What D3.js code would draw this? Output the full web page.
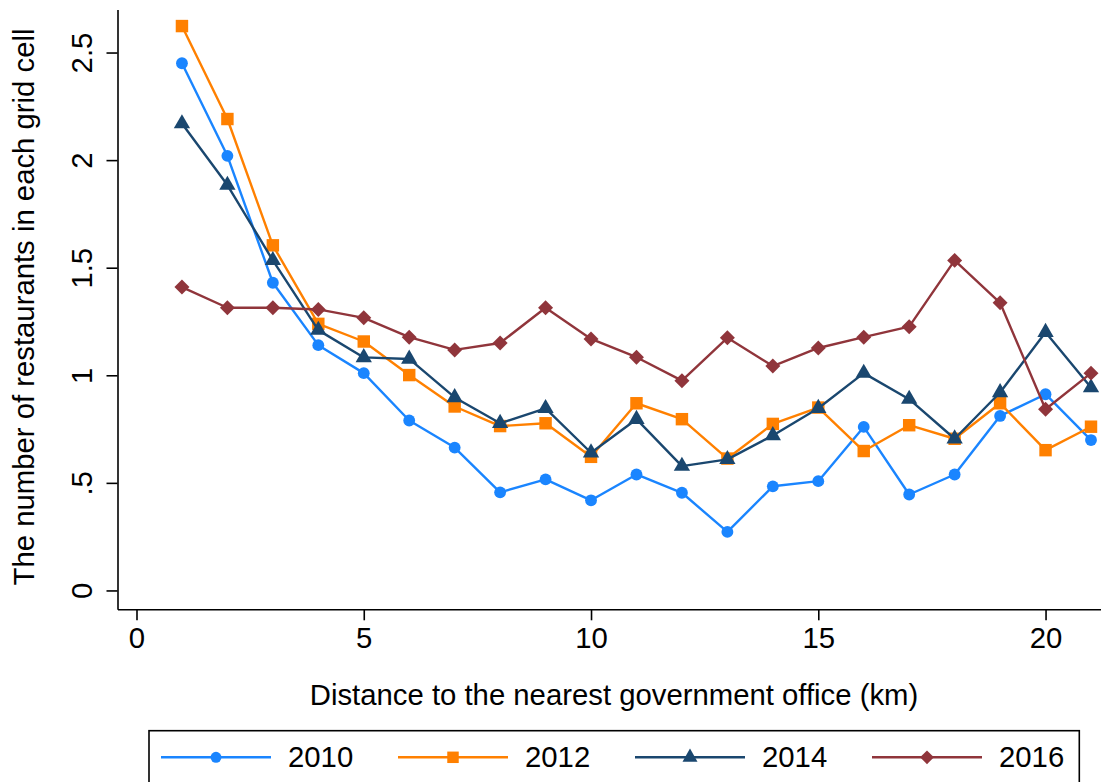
<!DOCTYPE html>
<html>
<head>
<meta charset="utf-8">
<script src="https://cdn.jsdelivr.net/npm/d3@7"></script>
<style>
  html, body { margin: 0; padding: 0; background: #fff; }
  svg { display: block; font-family: "Liberation Sans", Arial, Helvetica, sans-serif; }
</style>
</head>
<body>
<svg id="chart" width="1101" height="782"></svg>
<script>
// ---- data ----
const distances = [1,2,3,4,5,6,7,8,9,10,11,12,13,14,15,16,17,18,19,20,21];
const years = ["2010", "2012", "2014", "2016"];
const v2010 = [2.45, 2.02, 1.43, 1.14, 1.01, 0.79, 0.664, 0.456, 0.516, 0.419, 0.539, 0.454, 0.272, 0.484, 0.508, 0.760, 0.446, 0.539, 0.811, 0.912, 0.699];
const v2012 = [2.623, 2.191, 1.604, 1.239, 1.157, 1.001, 0.855, 0.764, 0.777, 0.621, 0.870, 0.796, 0.613, 0.774, 0.850, 0.648, 0.768, 0.705, 0.870, 0.652, 0.761];
const v2014 = [2.17, 1.884, 1.534, 1.21, 1.083, 1.076, 0.897, 0.777, 0.846, 0.640, 0.796, 0.578, 0.609, 0.720, 0.847, 1.010, 0.889, 0.705, 0.920, 1.200, 0.943];
const v2016 = [1.410, 1.314, 1.314, 1.306, 1.267, 1.177, 1.118, 1.150, 1.314, 1.169, 1.084, 0.975, 1.174, 1.043, 1.127, 1.177, 1.226, 1.534, 1.337, 0.842, 1.010];
const xTicks = [0, 5, 10, 15, 20];
const yTicks = [0, 0.5, 1, 1.5, 2, 2.5];
const yTickLabels = ["0", ".5", "1", "1.5", "2", "2.5"];
const xTitle = "Distance to the nearest government office (km)";
const yTitle = "The number of restaurants in each grid cell";

// ---- styles ----
const colors = ["#1a85ff", "#ff8000", "#1a476f", "#90353b"];
const symbols = [d3.symbolCircle, d3.symbolSquare, d3.symbolTriangle, d3.symbolSquare];
const symSizes = [110, 155, 115, 112];
const symRotate = [0, 0, 0, 45];
const seriesValues = [v2010, v2012, v2014, v2016];

const svg = d3.select("#chart");
const FS = 29.3;

const pLeft = 117.5, pRight = 1101, pTop = 9.5, pBottom = 609.3;
const x = d3.scaleLinear().domain([-0.418, 21.22]).range([pLeft, pRight]);
const y = d3.scaleLinear().domain([-0.0876, 2.7]).range([pBottom, pTop]);

// axes
const xAxis = svg.append("g")
  .attr("transform", `translate(0,${pBottom})`)
  .call(d3.axisBottom(x).tickValues(xTicks).tickSize(11).tickSizeOuter(0).tickFormat(d3.format("d")));
xAxis.select(".domain").attr("stroke", "#000").attr("stroke-width", 1.6);
xAxis.selectAll(".tick line").attr("stroke", "#000").attr("stroke-width", 1.6);
xAxis.selectAll(".tick text")
  .attr("y", 39).attr("dy", 0)
  .attr("font-size", FS).attr("font-family", "Liberation Sans, Arial, sans-serif").attr("fill", "#000");

const yAxis = svg.append("g")
  .attr("transform", `translate(${pLeft},0)`)
  .call(d3.axisLeft(y).tickValues(yTicks).tickSize(11).tickSizeOuter(0)
    .tickFormat((d, i) => yTickLabels[i]));
yAxis.select(".domain").attr("stroke", "#000").attr("stroke-width", 1.6);
yAxis.selectAll(".tick line").attr("stroke", "#000").attr("stroke-width", 1.6);
yAxis.selectAll(".tick text")
  .attr("x", null).attr("dy", 0)
  .attr("transform", "translate(-26,0) rotate(-90)")
  .attr("text-anchor", "middle")
  .attr("font-size", FS).attr("font-family", "Liberation Sans, Arial, sans-serif").attr("fill", "#000");

// titles
svg.append("text")
  .attr("x", 614).attr("y", 705)
  .attr("text-anchor", "middle")
  .attr("font-size", FS).attr("fill", "#000")
  .text(xTitle);
svg.append("text")
  .attr("transform", `translate(34,307) rotate(-90)`)
  .attr("text-anchor", "middle")
  .attr("font-size", FS).attr("fill", "#000")
  .text(yTitle);

// series
const line = d3.line().x((d, i) => x(distances[i])).y(d => y(d));
seriesValues.forEach((vals, s) => {
  const g = svg.append("g");
  g.append("path").datum(vals)
    .attr("d", line)
    .attr("fill", "none")
    .attr("stroke", colors[s])
    .attr("stroke-width", 2.4)
    .attr("stroke-linejoin", "round");
  g.selectAll("path.m").data(vals).join("path")
    .attr("class", "m")
    .attr("d", d3.symbol().type(symbols[s]).size(symSizes[s]))
    .attr("transform", (d, i) => `translate(${x(distances[i])},${y(d)}) rotate(${symRotate[s]})`)
    .attr("fill", colors[s]);
});

// legend
const lg = svg.append("g");
lg.append("rect")
  .attr("x", 149).attr("y", 730.7).attr("width", 930.3).attr("height", 80)
  .attr("fill", "#fff").attr("stroke", "#000").attr("stroke-width", 1.6);
years.forEach((yr, s) => {
  const x0 = 161 + s * 237;
  const ly = 757.3;
  lg.append("line")
    .attr("x1", x0).attr("x2", x0 + 110).attr("y1", ly).attr("y2", ly)
    .attr("stroke", colors[s]).attr("stroke-width", 2.6);
  lg.append("path")
    .attr("d", d3.symbol().type(symbols[s]).size(symSizes[s] * 0.85))
    .attr("transform", `translate(${x0 + 55},${ly}) rotate(${symRotate[s]})`)
    .attr("fill", colors[s]);
  lg.append("text")
    .attr("x", x0 + 127).attr("y", 767.3)
    .attr("font-size", FS).attr("fill", "#000")
    .text(yr);
});
</script>
</body>
</html>
